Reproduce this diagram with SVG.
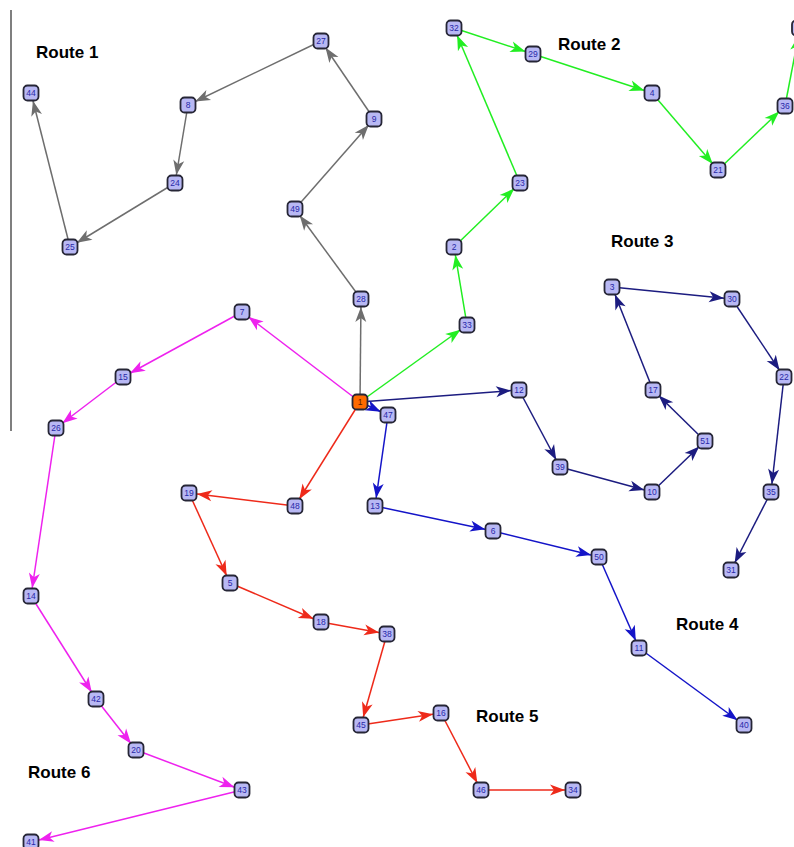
<svg xmlns="http://www.w3.org/2000/svg" width="794" height="847" viewBox="0 0 794 847">
<style>
.n rect{fill:#b8b8f4;stroke:#262636;stroke-width:1.8}
.n text{font-family:"Liberation Sans",Arial,sans-serif;font-size:8.5px;fill:#2828a8;text-anchor:middle;dominant-baseline:central}
.lbl{font-family:"Liberation Sans",Arial,sans-serif;font-weight:bold;font-size:17px;fill:#000}
.c line{stroke-width:1.5;fill:none}
.r1{stroke:#6e6e6e;marker-end:url(#a1)}
.r2{stroke:#22ee22;marker-end:url(#a2)}
.r3{stroke:#1c1c80;marker-end:url(#a3)}
.r4{stroke:#1414c8;marker-end:url(#a4)}
.r5{stroke:#ee2a1a;marker-end:url(#a5)}
.r6{stroke:#ee22ee;marker-end:url(#a6)}
</style>
<defs>
<marker id="a1" markerUnits="userSpaceOnUse" markerWidth="16" markerHeight="12" refX="23" refY="5.5" orient="auto" overflow="visible"><path d="M0,0 L15,5.5 L0,11 L4,5.5 Z" fill="#6e6e6e"/></marker>
<marker id="a2" markerUnits="userSpaceOnUse" markerWidth="16" markerHeight="12" refX="23" refY="5.5" orient="auto" overflow="visible"><path d="M0,0 L15,5.5 L0,11 L4,5.5 Z" fill="#22ee22"/></marker>
<marker id="a3" markerUnits="userSpaceOnUse" markerWidth="16" markerHeight="12" refX="23" refY="5.5" orient="auto" overflow="visible"><path d="M0,0 L15,5.5 L0,11 L4,5.5 Z" fill="#1c1c80"/></marker>
<marker id="a4" markerUnits="userSpaceOnUse" markerWidth="16" markerHeight="12" refX="23" refY="5.5" orient="auto" overflow="visible"><path d="M0,0 L15,5.5 L0,11 L4,5.5 Z" fill="#1414c8"/></marker>
<marker id="a5" markerUnits="userSpaceOnUse" markerWidth="16" markerHeight="12" refX="23" refY="5.5" orient="auto" overflow="visible"><path d="M0,0 L15,5.5 L0,11 L4,5.5 Z" fill="#ee2a1a"/></marker>
<marker id="a6" markerUnits="userSpaceOnUse" markerWidth="16" markerHeight="12" refX="23" refY="5.5" orient="auto" overflow="visible"><path d="M0,0 L15,5.5 L0,11 L4,5.5 Z" fill="#ee22ee"/></marker>
</defs>
<rect width="794" height="847" fill="#fff"/>
<line x1="11" y1="10" x2="11" y2="431" stroke="#555" stroke-width="1.5"/>
<g id="connectors" class="c">
<line class="r1" x1="360" y1="402" x2="361" y2="299"/>
<line class="r1" x1="361" y1="299" x2="295" y2="209"/>
<line class="r1" x1="295" y1="209" x2="374" y2="119"/>
<line class="r1" x1="374" y1="119" x2="321" y2="41"/>
<line class="r1" x1="321" y1="41" x2="188" y2="105"/>
<line class="r1" x1="188" y1="105" x2="175" y2="183"/>
<line class="r1" x1="175" y1="183" x2="70" y2="247"/>
<line class="r1" x1="70" y1="247" x2="31" y2="93"/>
<line class="r2" x1="360" y1="402" x2="467" y2="325"/>
<line class="r2" x1="467" y1="325" x2="454" y2="247"/>
<line class="r2" x1="454" y1="247" x2="520" y2="183"/>
<line class="r2" x1="520" y1="183" x2="454" y2="28"/>
<line class="r2" x1="454" y1="28" x2="533" y2="54"/>
<line class="r2" x1="533" y1="54" x2="652" y2="93"/>
<line class="r2" x1="652" y1="93" x2="718" y2="170"/>
<line class="r2" x1="718" y1="170" x2="785" y2="106"/>
<line class="r2" x1="785" y1="106" x2="800" y2="28"/>
<line class="r3" x1="360" y1="402" x2="519" y2="390"/>
<line class="r3" x1="519" y1="390" x2="560" y2="467"/>
<line class="r3" x1="560" y1="467" x2="652" y2="492"/>
<line class="r3" x1="652" y1="492" x2="705" y2="441"/>
<line class="r3" x1="705" y1="441" x2="653" y2="390"/>
<line class="r3" x1="653" y1="390" x2="612" y2="287"/>
<line class="r3" x1="612" y1="287" x2="732" y2="299"/>
<line class="r3" x1="732" y1="299" x2="784" y2="377"/>
<line class="r3" x1="784" y1="377" x2="771" y2="492"/>
<line class="r3" x1="771" y1="492" x2="731" y2="570"/>
<line class="r4" x1="360" y1="402" x2="388" y2="415"/>
<line class="r4" x1="388" y1="415" x2="375" y2="506"/>
<line class="r4" x1="375" y1="506" x2="493" y2="531"/>
<line class="r4" x1="493" y1="531" x2="599" y2="557"/>
<line class="r4" x1="599" y1="557" x2="639" y2="648"/>
<line class="r4" x1="639" y1="648" x2="744" y2="725"/>
<line class="r5" x1="360" y1="402" x2="295" y2="506"/>
<line class="r5" x1="295" y1="506" x2="189" y2="493"/>
<line class="r5" x1="189" y1="493" x2="230" y2="583"/>
<line class="r5" x1="230" y1="583" x2="321" y2="622"/>
<line class="r5" x1="321" y1="622" x2="387" y2="634"/>
<line class="r5" x1="387" y1="634" x2="361" y2="725"/>
<line class="r5" x1="361" y1="725" x2="441" y2="713"/>
<line class="r5" x1="441" y1="713" x2="481" y2="790"/>
<line class="r5" x1="481" y1="790" x2="573" y2="790"/>
<line class="r6" x1="360" y1="402" x2="242" y2="312"/>
<line class="r6" x1="242" y1="312" x2="123" y2="377"/>
<line class="r6" x1="123" y1="377" x2="56" y2="428"/>
<line class="r6" x1="56" y1="428" x2="31" y2="596"/>
<line class="r6" x1="31" y1="596" x2="96" y2="699"/>
<line class="r6" x1="96" y1="699" x2="136" y2="750"/>
<line class="r6" x1="136" y1="750" x2="242" y2="790"/>
<line class="r6" x1="242" y1="790" x2="31" y2="842"/>
</g>
<g id="n28" class="n"><rect x="353.5" y="291.5" width="15" height="15" rx="4"/><text x="361" y="299">28</text></g>
<g id="n49" class="n"><rect x="287.5" y="201.5" width="15" height="15" rx="4"/><text x="295" y="209">49</text></g>
<g id="n9" class="n"><rect x="366.5" y="111.5" width="15" height="15" rx="4"/><text x="374" y="119">9</text></g>
<g id="n27" class="n"><rect x="313.5" y="33.5" width="15" height="15" rx="4"/><text x="321" y="41">27</text></g>
<g id="n8" class="n"><rect x="180.5" y="97.5" width="15" height="15" rx="4"/><text x="188" y="105">8</text></g>
<g id="n24" class="n"><rect x="167.5" y="175.5" width="15" height="15" rx="4"/><text x="175" y="183">24</text></g>
<g id="n25" class="n"><rect x="62.5" y="239.5" width="15" height="15" rx="4"/><text x="70" y="247">25</text></g>
<g id="n44" class="n"><rect x="23.5" y="85.5" width="15" height="15" rx="4"/><text x="31" y="93">44</text></g>
<g id="n33" class="n"><rect x="459.5" y="317.5" width="15" height="15" rx="4"/><text x="467" y="325">33</text></g>
<g id="n2" class="n"><rect x="446.5" y="239.5" width="15" height="15" rx="4"/><text x="454" y="247">2</text></g>
<g id="n23" class="n"><rect x="512.5" y="175.5" width="15" height="15" rx="4"/><text x="520" y="183">23</text></g>
<g id="n32" class="n"><rect x="446.5" y="20.5" width="15" height="15" rx="4"/><text x="454" y="28">32</text></g>
<g id="n29" class="n"><rect x="525.5" y="46.5" width="15" height="15" rx="4"/><text x="533" y="54">29</text></g>
<g id="n4" class="n"><rect x="644.5" y="85.5" width="15" height="15" rx="4"/><text x="652" y="93">4</text></g>
<g id="n21" class="n"><rect x="710.5" y="162.5" width="15" height="15" rx="4"/><text x="718" y="170">21</text></g>
<g id="n36" class="n"><rect x="777.5" y="98.5" width="15" height="15" rx="4"/><text x="785" y="106">36</text></g>
<g id="nTR" class="n"><rect x="792" y="20.5" width="15" height="15" rx="4"/></g>
<g id="n12" class="n"><rect x="511.5" y="382.5" width="15" height="15" rx="4"/><text x="519" y="390">12</text></g>
<g id="n39" class="n"><rect x="552.5" y="459.5" width="15" height="15" rx="4"/><text x="560" y="467">39</text></g>
<g id="n10" class="n"><rect x="644.5" y="484.5" width="15" height="15" rx="4"/><text x="652" y="492">10</text></g>
<g id="n51" class="n"><rect x="697.5" y="433.5" width="15" height="15" rx="4"/><text x="705" y="441">51</text></g>
<g id="n17" class="n"><rect x="645.5" y="382.5" width="15" height="15" rx="4"/><text x="653" y="390">17</text></g>
<g id="n3" class="n"><rect x="604.5" y="279.5" width="15" height="15" rx="4"/><text x="612" y="287">3</text></g>
<g id="n30" class="n"><rect x="724.5" y="291.5" width="15" height="15" rx="4"/><text x="732" y="299">30</text></g>
<g id="n22" class="n"><rect x="776.5" y="369.5" width="15" height="15" rx="4"/><text x="784" y="377">22</text></g>
<g id="n35" class="n"><rect x="763.5" y="484.5" width="15" height="15" rx="4"/><text x="771" y="492">35</text></g>
<g id="n31" class="n"><rect x="723.5" y="562.5" width="15" height="15" rx="4"/><text x="731" y="570">31</text></g>
<g id="n47" class="n"><rect x="380.5" y="407.5" width="15" height="15" rx="4"/><text x="388" y="415">47</text></g>
<g id="n13" class="n"><rect x="367.5" y="498.5" width="15" height="15" rx="4"/><text x="375" y="506">13</text></g>
<g id="n6" class="n"><rect x="485.5" y="523.5" width="15" height="15" rx="4"/><text x="493" y="531">6</text></g>
<g id="n50" class="n"><rect x="591.5" y="549.5" width="15" height="15" rx="4"/><text x="599" y="557">50</text></g>
<g id="n11" class="n"><rect x="631.5" y="640.5" width="15" height="15" rx="4"/><text x="639" y="648">11</text></g>
<g id="n40" class="n"><rect x="736.5" y="717.5" width="15" height="15" rx="4"/><text x="744" y="725">40</text></g>
<g id="n48" class="n"><rect x="287.5" y="498.5" width="15" height="15" rx="4"/><text x="295" y="506">48</text></g>
<g id="n19" class="n"><rect x="181.5" y="485.5" width="15" height="15" rx="4"/><text x="189" y="493">19</text></g>
<g id="n5" class="n"><rect x="222.5" y="575.5" width="15" height="15" rx="4"/><text x="230" y="583">5</text></g>
<g id="n18" class="n"><rect x="313.5" y="614.5" width="15" height="15" rx="4"/><text x="321" y="622">18</text></g>
<g id="n38" class="n"><rect x="379.5" y="626.5" width="15" height="15" rx="4"/><text x="387" y="634">38</text></g>
<g id="n45" class="n"><rect x="353.5" y="717.5" width="15" height="15" rx="4"/><text x="361" y="725">45</text></g>
<g id="n16" class="n"><rect x="433.5" y="705.5" width="15" height="15" rx="4"/><text x="441" y="713">16</text></g>
<g id="n46" class="n"><rect x="473.5" y="782.5" width="15" height="15" rx="4"/><text x="481" y="790">46</text></g>
<g id="n34" class="n"><rect x="565.5" y="782.5" width="15" height="15" rx="4"/><text x="573" y="790">34</text></g>
<g id="n7" class="n"><rect x="234.5" y="304.5" width="15" height="15" rx="4"/><text x="242" y="312">7</text></g>
<g id="n15" class="n"><rect x="115.5" y="369.5" width="15" height="15" rx="4"/><text x="123" y="377">15</text></g>
<g id="n26" class="n"><rect x="48.5" y="420.5" width="15" height="15" rx="4"/><text x="56" y="428">26</text></g>
<g id="n14" class="n"><rect x="23.5" y="588.5" width="15" height="15" rx="4"/><text x="31" y="596">14</text></g>
<g id="n42" class="n"><rect x="88.5" y="691.5" width="15" height="15" rx="4"/><text x="96" y="699">42</text></g>
<g id="n20" class="n"><rect x="128.5" y="742.5" width="15" height="15" rx="4"/><text x="136" y="750">20</text></g>
<g id="n43" class="n"><rect x="234.5" y="782.5" width="15" height="15" rx="4"/><text x="242" y="790">43</text></g>
<g id="n41" class="n"><rect x="23.5" y="834.5" width="15" height="15" rx="4"/><text x="31" y="842">41</text></g>
<g id="n1" class="n"><rect x="352.5" y="394.5" width="15" height="15" rx="4" style="fill:#ff6a00"/><text x="360" y="402" style="fill:#5a2000">1</text></g>
<text class="lbl" x="36" y="58">Route 1</text>
<text class="lbl" x="558" y="50">Route 2</text>
<text class="lbl" x="611" y="247">Route 3</text>
<text class="lbl" x="676" y="630">Route 4</text>
<text class="lbl" x="476" y="722">Route 5</text>
<text class="lbl" x="28" y="778">Route 6</text>
</svg>
